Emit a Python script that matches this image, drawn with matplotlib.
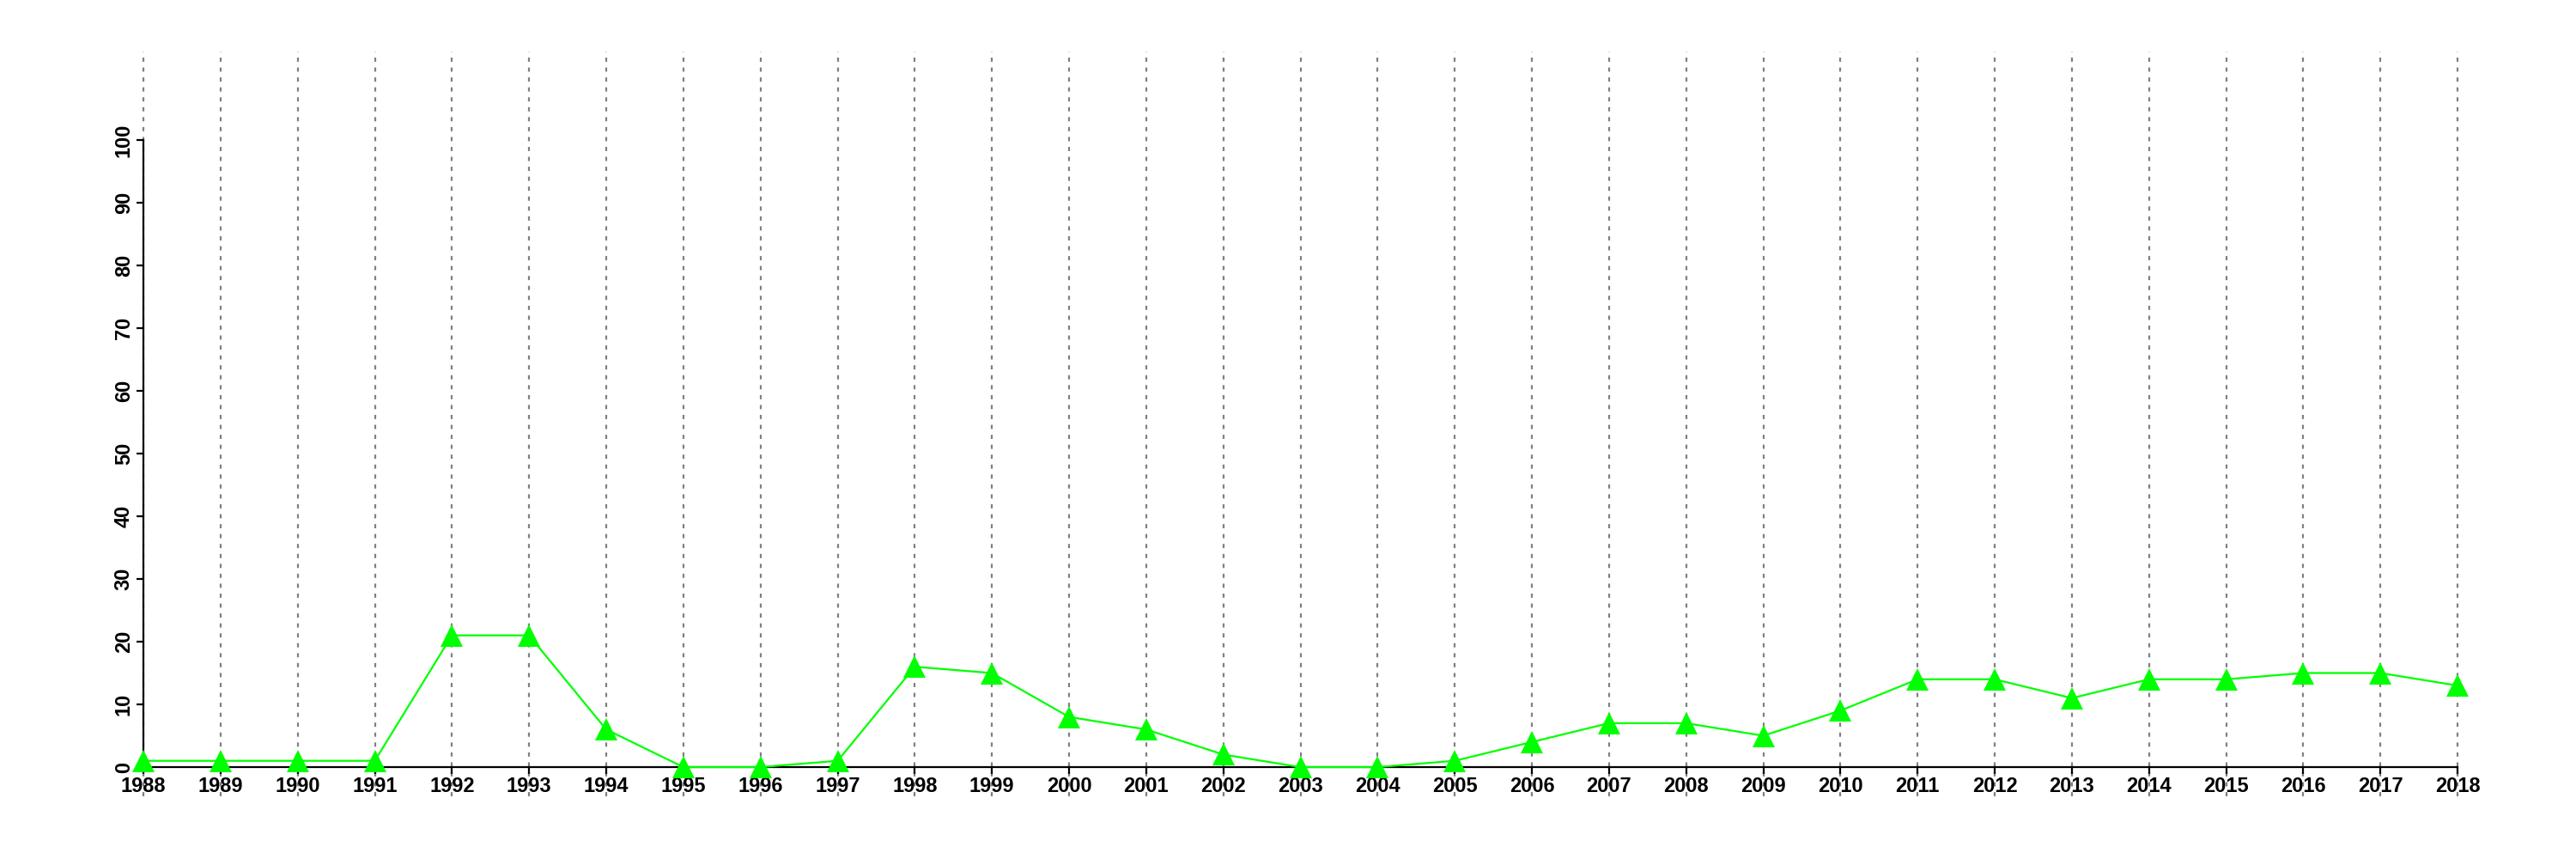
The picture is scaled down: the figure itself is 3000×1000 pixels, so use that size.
import numpy as np
import matplotlib
matplotlib.use('Agg')
import matplotlib.pyplot as plt

plt.rcParams['font.family'] = ['Liberation Sans', 'DejaVu Sans']

years = list(range(1988, 2019))
values = [1, 1, 1, 1, 21, 21, 6, 0, 0, 1, 16, 15, 8, 6, 2, 0, 0, 1, 4, 7, 7, 5, 9,
          14, 14, 11, 14, 14, 15, 15, 13]
y_ticks = list(range(0, 101, 10))

fig = plt.figure(figsize=(30, 10), dpi=100)
ax = fig.add_axes([167/3000, 107/1000, (2862-167)/3000, (893-163)/1000])
ax.set_xlim(1988, 2018)
ax.set_ylim(0, 100)

# dotted guide lines, running past the plot box like R's abline
for yr in years:
    ax.plot([yr, yr], [-4.7, 114.1], color='#808080', lw=1.6,
            linestyle=(0, (2.2, 3.0)), clip_on=False, zorder=1)

ax.plot(years, values, color='#00ff00', lw=1.6, marker='^', markersize=19,
        markeredgewidth=0, clip_on=False, zorder=3)

for s in ['top', 'right']:
    ax.spines[s].set_visible(False)
ax.spines['left'].set_bounds(0, 100)
ax.spines['bottom'].set_bounds(1988, 2018)
ax.spines['left'].set_linewidth(1.6)
ax.spines['bottom'].set_linewidth(1.6)

ax.set_xticks(years)
ax.set_xticklabels([str(y) for y in years], fontsize=17, fontweight='bold')
ax.set_yticks(y_ticks)
ax.set_yticklabels([str(v) for v in y_ticks], fontsize=17, fontweight='bold',
                   rotation=90, va='center')
ax.tick_params(axis='both', length=6, width=1.6, pad=2)

fig.savefig('out.png', dpi=100)
